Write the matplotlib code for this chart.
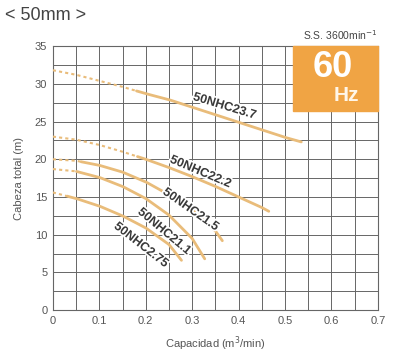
import numpy as np
import matplotlib.pyplot as plt
import matplotlib.patheffects as pe
from matplotlib.patches import Rectangle

plt.rcParams["font.family"] = ["Liberation Sans", "DejaVu Sans"]

# capacity (m3/min) and head (m)
q_237 = [0, 0.05, 0.1, 0.15, 0.2, 0.25, 0.3, 0.35, 0.4, 0.45, 0.5, 0.535]
h_237 = [31.8, 31.2, 30.4, 29.6, 28.7, 27.9, 26.9, 25.9, 24.9, 23.9, 22.9, 22.3]
q_222 = [0, 0.05, 0.1, 0.15, 0.2, 0.25, 0.3, 0.35, 0.4, 0.45, 0.465]
h_222 = [23.0, 22.6, 21.9, 21.0, 20.0, 18.9, 17.7, 16.4, 15.0, 13.6, 13.1]
q_215 = [0, 0.05, 0.1, 0.15, 0.2, 0.25, 0.3, 0.35, 0.365]
h_215 = [20.0, 19.8, 19.2, 18.3, 17.0, 15.3, 13.3, 10.5, 9.2]
q_211 = [0, 0.05, 0.1, 0.15, 0.2, 0.25, 0.3, 0.327]
h_211 = [18.7, 18.4, 17.6, 16.4, 14.8, 12.6, 9.5, 6.8]
q_275 = [0, 0.05, 0.1, 0.15, 0.2, 0.25, 0.277]
h_275 = [15.6, 14.8, 13.8, 12.5, 10.9, 8.7, 6.6]

curves = [
    ("50NHC23.7", q_237, h_237, 0.18, (0.37, 27.0), -17),
    ("50NHC22.2", q_222, h_222, 0.18, (0.318, 18.3), -23),
    ("50NHC21.5", q_215, h_215, 0.06, (0.297, 13.3), -35),
    ("50NHC21.1", q_211, h_211, 0.05, (0.24, 10.4), -40),
    ("50NHC2.75", q_275, h_275, 0.03, (0.19, 8.6), -38),
]

line_col = "#e9bc7a"
grid_col = "#666666"
text_col = "#3a3a3a"

fig = plt.figure(figsize=(4.13, 3.52), dpi=100)
ax = fig.add_axes([0.128, 0.119, 0.787, 0.75])

ax.set_xlim(0, 0.7)
ax.set_ylim(0, 35)
ax.set_xticks(np.arange(0, 0.71, 0.1))
ax.set_xticklabels(["0", "0.1", "0.2", "0.3", "0.4", "0.5", "0.6", "0.7"])
ax.set_yticks(np.arange(0, 36, 5))
ax.set_xticks(np.arange(0, 0.71, 0.05), minor=True)
ax.set_yticks(np.arange(0, 35.1, 2.5), minor=True)
ax.grid(which="both", color=grid_col, lw=0.7)
ax.tick_params(which="both", length=0, labelsize=8, labelcolor="#555555", pad=4)
for s in ax.spines.values():
    s.set_color(grid_col)
    s.set_linewidth(0.8)

for name, q, h, qcut, pos, rot in curves:
    q = np.array(q)
    h = np.array(h)
    qq = np.linspace(q[0], q[-1], 200)
    hh = np.interp(qq, q, h)
    dash = qq <= qcut
    ax.plot(qq[dash], hh[dash], color=line_col, lw=1.5, ls=(0, (1.5, 1.5)), zorder=3)
    ax.plot(qq[~dash], hh[~dash], color=line_col, lw=2.0, solid_capstyle="round", zorder=3)
    ax.text(pos[0], pos[1], name, rotation=rot, fontsize=9, fontweight="bold",
            color=text_col, ha="center", va="center", zorder=5,
            path_effects=[pe.withStroke(linewidth=2.5, foreground="white")])

# 60 Hz badge
ax.add_patch(Rectangle((0.518, 26.4), 0.182, 8.6, color="#f0a444", zorder=4, clip_on=False))
ax.text(0.603, 32.2, "60", color="white", fontsize=26, fontweight="bold",
        ha="center", va="center", zorder=6)
ax.text(0.632, 28.4, "Hz", color="#fff6e8", fontsize=15, fontweight="bold",
        ha="center", va="center", zorder=6)
ax.text(0.7, 35.6, "S.S. 3600min$^{-1}$", fontsize=7.5, color="#444444",
        ha="right", va="bottom")

ax.set_xlabel("Capacidad (m$^3$/min)", fontsize=8, color="#555555", labelpad=6)
ax.set_ylabel("Cabeza total (m)", fontsize=8, color="#555555", labelpad=8)

fig.text(0.012, 0.955, "< 50mm >", fontsize=13, color="#444444", va="center")

fig.savefig("out.png", dpi=100)
